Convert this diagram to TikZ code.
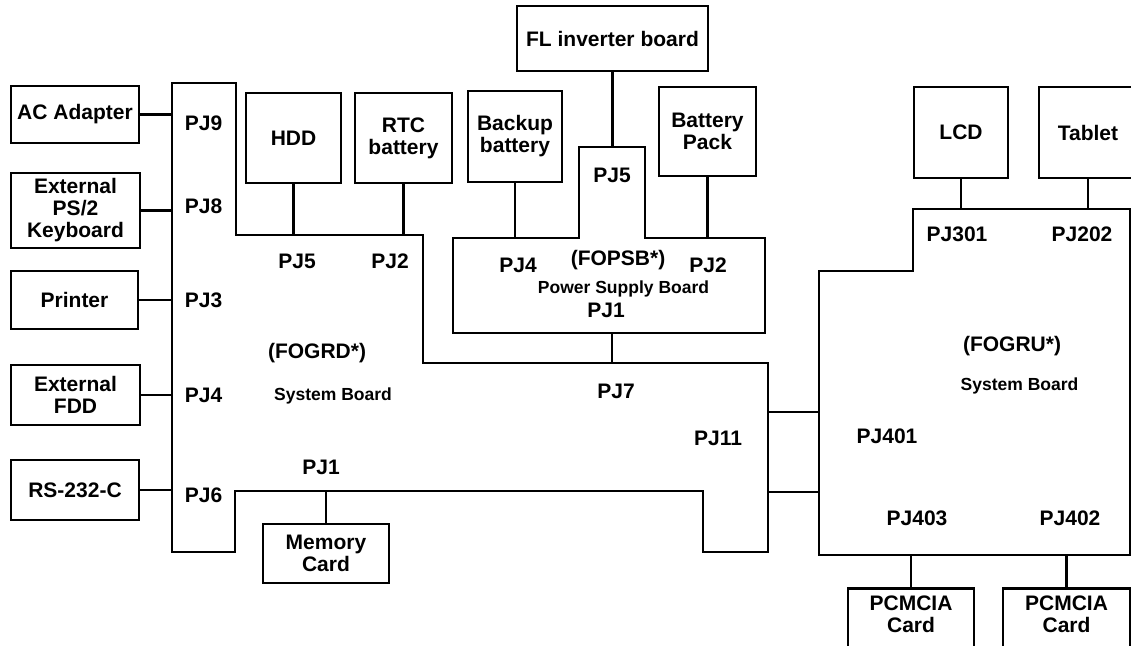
\documentclass[tikz,border=0pt]{standalone}
\usepackage{fontspec}
\setmainfont{Liberation Sans}
\usetikzlibrary{positioning}
\begin{document}
\begin{tikzpicture}[x=1pt, y=-1pt, line width=2.6pt,
    every node/.style={font=\fontsize{21}{22}\selectfont\bfseries, align=center},
    unit/.style={draw, inner sep=0pt},
    pj/.style={anchor=base, inner sep=0pt},
    small/.style={anchor=base, inner sep=0pt, font=\fontsize{17.5}{20}\selectfont\bfseries}]
% Rahmen
\useasboundingbox (0,0) rectangle (1131,645);
\clip (0,0) rectangle (1131,645);
% Peripherie links
\node[unit, minimum width=128pt, minimum height=57pt] (acad) at (75,114.5) {AC Adapter};
\node[unit, minimum width=129pt, minimum height=75pt] (kbd) at (75.5,210.5) {External\\PS/2\\Keyboard};
\node[unit, minimum width=127pt, minimum height=58pt] (prn) at (74.5,300) {Printer};
\node[unit, minimum width=129pt, minimum height=60pt] (fdd) at (75.5,395) {External\\FDD};
\node[unit, minimum width=128pt, minimum height=60pt] (rs) at (75,490) {RS-232-C};
% Systemplatine FOGRD
\draw (172,83) coordinate (grdL) -- (236,83) -- (236,235) coordinate (grdT) -- (423,235)
    -- (423,363) coordinate (grdM) -- (768,363) -- (768,552) coordinate (grdR) -- (703,552)
    -- (703,491) -- (235,491) coordinate (grdB) -- (235,552) -- (172,552) -- cycle;
\foreach \u in {acad,kbd,prn,fdd,rs}
    \draw (\u.east) -- (\u.east -| grdL);
% Laufwerke oben
\node[unit, minimum width=95pt, minimum height=90pt] (hdd) at (293.5,138) {HDD};
\node[unit, minimum width=97pt, minimum height=90pt] (rtc) at (403.5,138) {RTC\\battery};
\draw (hdd.south) -- (hdd.south |- grdT);
\draw (rtc.south) -- (rtc.south |- grdT);
% Netzteilplatine FOPSB
\draw (453,238) coordinate (psbT) -- (579,238) -- (579,147) coordinate (psbTab) -- (645,147)
    -- (645,238) -- (765,238) -- (765,333) -- (453,333) -- cycle;
\coordinate (psbC) at (612,333);
\node[unit, minimum width=191pt, minimum height=65pt] (fl) at (612.5,38.5) {FL inverter board};
\node[unit, minimum width=94pt, minimum height=91pt] (bkp) at (515,136.5) {Backup\\battery};
\node[unit, minimum width=97pt, minimum height=89pt] (bpack) at (707.5,131.5) {Battery\\Pack};
\draw (fl.south) -- (fl.south |- psbTab);
\draw (bkp.south) -- (bkp.south |- psbT);
\draw (bpack.south) -- (bpack.south |- psbT);
\draw (psbC) -- (psbC |- grdM);
% Speicherkarte
\node[unit, minimum width=126pt, minimum height=59pt] (mem) at (326,553.5) {Memory\\Card};
\draw (mem.north) -- (mem.north |- grdB);
% Systemplatine FOGRU
\draw (913,209) coordinate (gruT) -- (1130,209) -- (1130,555) coordinate (gruB) -- (819,555)
    coordinate (gruL) -- (819,271) -- (913,271) -- cycle;
\coordinate (pjA) at (768,412);
\coordinate (pjB) at (768,492);
\draw (pjA) -- (pjA -| gruL);
\draw (pjB) -- (pjB -| gruL);
% Anzeige und Tablett
\node[unit, minimum width=94pt, minimum height=91pt] (lcd) at (961,132.5) {LCD};
\node[unit, minimum width=98pt, minimum height=91pt] (tab) at (1088,132.5) {Tablet};
\draw (lcd.south) -- (lcd.south |- gruT);
\draw (tab.south) -- (tab.south |- gruT);
% PCMCIA-Karten unten
\node[unit, minimum width=126pt, minimum height=70pt, anchor=north] (pcA) at (911,587) {};
\node[unit, minimum width=127pt, minimum height=70pt, anchor=north] (pcB) at (1066.5,587) {};
\node[inner sep=0pt, below=8pt of pcA.north] (pcAtxt) {PCMCIA\\Card};
\node[inner sep=0pt, below=8pt of pcB.north] (pcBtxt) {PCMCIA\\Card};
\draw (pcA.north) -- (pcA.north |- gruB);
\draw (pcB.north) -- (pcB.north |- gruB);
% Steckerbezeichnungen
\node[pj] (pj9) at (203.5,130) {PJ9};
\node[pj] (pj8) at (203.5,213) {PJ8};
\node[pj] (pj3) at (203.5,307) {PJ3};
\node[pj] (pj4) at (203.5,402) {PJ4};
\node[pj] (pj6) at (203.5,502) {PJ6};
\node[pj] (pj5l) at (297,268) {PJ5};
\node[pj] (pj2l) at (390,268) {PJ2};
\node[pj] (pj1l) at (321,474) {PJ1};
\node[pj] (pj7) at (616,398) {PJ7};
\node[pj] (pj11) at (718,445) {PJ11};
\node[pj] (grd) at (317,358) {(FOGRD*)};
\node[small] (grdname) at (333,400) {System Board};
% Netzteil
\node[pj] (pj5p) at (612,182) {PJ5};
\node[pj] (pj4p) at (518,272) {PJ4};
\node[pj] (psb) at (618,265) {(FOPSB*)};
\node[pj] (pj2p) at (708,272) {PJ2};
\node[small] (psbname) at (623.5,293) {Power Supply Board};
\node[pj] (pj1p) at (606,317) {PJ1};
% rechts
\node[pj] (pj301) at (957,241) {PJ301};
\node[pj] (pj202) at (1082,241) {PJ202};
\node[pj] (gru) at (1012,351) {(FOGRU*)};
\node[small] (gruname) at (1019.5,390) {System Board};
\node[pj] (pj401) at (887,443) {PJ401};
\node[pj] (pj403) at (917,525) {PJ403};
\node[pj] (pj402) at (1070,525) {PJ402};
\end{tikzpicture}
\end{document}
